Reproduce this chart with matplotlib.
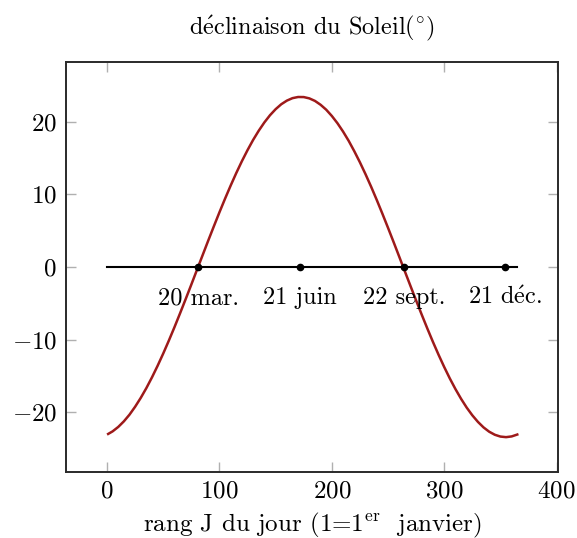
import matplotlib
matplotlib.use("Agg")
import matplotlib.pyplot as plt

plt.rcParams['font.family'] = ['cmr10', 'DejaVu Serif']
plt.rcParams['mathtext.fontset'] = 'cm'
plt.rcParams['axes.formatter.use_mathtext'] = True

# data
days = [1, 5, 10, 15, 20, 25, 30, 35, 40, 45, 50, 55, 60, 65, 70, 75, 80, 85, 90, 95,
        100, 105, 110, 115, 120, 125, 130, 135, 140, 145, 150, 155, 160, 165, 170, 175,
        180, 185, 190, 195, 200, 205, 210, 215, 220, 225, 230, 235, 240, 245, 250, 255,
        260, 265, 270, 275, 280, 285, 290, 295, 300, 305, 310, 315, 320, 325, 330, 335,
        340, 345, 350, 355, 360, 365]
decl = [-23.0, -22.64, -22.03, -21.26, -20.34, -19.25, -18.03, -16.68, -15.2, -13.61,
        -11.92, -10.14, -8.29, -6.37, -4.41, -2.42, -0.40, 1.61, 3.62, 5.59,
        7.53, 9.41, 11.22, 12.95, 14.58, 16.10, 17.51, 18.78, 19.92, 20.91,
        21.74, 22.42, 22.92, 23.26, 23.42, 23.41, 23.23, 22.88, 22.35, 21.67,
        20.81, 19.81, 18.66, 17.38, 15.95, 14.42, 12.78, 11.05, 9.23, 7.34,
        5.40, 3.42, 1.41, -0.61, -2.62, -4.61, -6.57, -8.48, -10.33, -12.10,
        -13.78, -15.36, -16.82, -18.16, -19.37, -20.43, -21.34, -22.10, -22.69, -23.11,
        -23.36, -23.44, -23.34, -23.08]
axis_line_x = [0, 365]
axis_line_y = [0, 0]
event_days = [81, 172, 264, 354]
event_labels = ["20 mar.", "21 juin", "22 sept.", r"21 d$\acute{\mathrm{e}}$c."]
xticks = [0, 100, 200, 300, 400]
yticks = [-20, -10, 0, 10, 20]

W, H = 577, 538
fig = plt.figure(figsize=(W / 100, H / 100), dpi=100)
L, R, T, B = 66, 558.3, 62.3, 471.7
ax = fig.add_axes([L / W, 1 - B / H, (R - L) / W, (B - T) / H])

ax.plot(days, decl, color='#9e1a1a', lw=1.8, zorder=2)
ax.plot(axis_line_x, axis_line_y, color='black', lw=1.5, zorder=3)
ax.plot(event_days, [0] * len(event_days), 'o', color='black', ms=4.5, zorder=4)
for d, lab in zip(event_days, event_labels):
    ax.annotate(lab, (d, 0), xytext=(0, -22.3), textcoords='offset points',
                ha='center', va='center', fontsize=17.5, zorder=5)

ax.set_xlim(-36.5, 401.5)
ax.set_ylim(-28.2, 28.2)
ax.set_xticks(xticks)
ax.set_yticks(yticks)
ax.tick_params(direction='in', length=7.5, width=1, color='#b0b0b0', labelsize=18,
               top=True, right=True)
ax.tick_params(axis='y', pad=6.5)
ax.tick_params(axis='x', pad=6)
for s in ax.spines.values():
    s.set_linewidth(1.4)
    s.set_color('#2a2a2a')

cx = (L + R) / 2 / W
fig.text(cx, 1 - 28 / H, r"d$\acute{\mathrm{e}}$clinaison du Soleil$(^{\circ})$",
         fontsize=17.5, ha='center', va='center')
fig.text(cx, 1 - 525 / H, r"rang J du jour (1=1$^{\rm er}$  janvier)",
         fontsize=18, ha='center', va='center')

fig.savefig("out.png", dpi=100)
